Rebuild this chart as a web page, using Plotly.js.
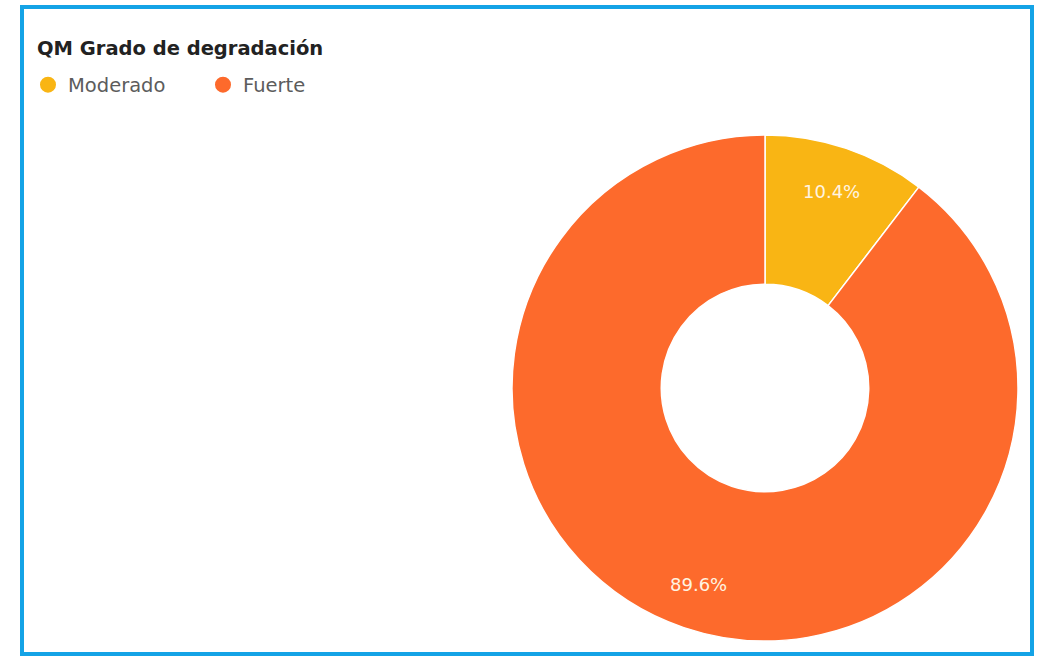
<!DOCTYPE html>
<html>
<head>
<meta charset="utf-8">
<script src="https://cdn.plot.ly/plotly-3.0.1.min.js"></script>
<style>
html,body{margin:0;padding:0;background:#fff;}
#chart{width:1038px;height:658px;}
</style>
</head>
<body>
<div id="chart"></div>
<script>
const categories = ["Moderado", "Fuerte"];
const values = [10.4, 89.6];
const colors = ["#F9B514", "#FD6A2C"];
const chartTitle = "QM Grado de degradación";

const W = 1038, H = 658;
const cx = 765, cy = 388, R = 253;
const FONT = "DejaVu Sans, Verdana, sans-serif";

const traces = [{
  type: "pie",
  labels: categories,
  values: values,
  sort: false,
  direction: "clockwise",
  rotation: 0,
  hole: 0.41,
  marker: {colors: colors, line: {color: "#FFFFFF", width: 1.5}},
  textinfo: "none",
  showlegend: false,
  hoverinfo: "label+percent",
  domain: {x: [(cx - R) / W, (cx + R) / W], y: [(H - cy - R) / H, (H - cy + R) / H]}
}];

categories.forEach((c, i) => {
  traces.push({
    type: "scatter", mode: "markers", x: [null], y: [null], name: c,
    marker: {symbol: "circle", size: 14, color: colors[i], line: {color: colors[i], width: 2}},
    showlegend: true, hoverinfo: "skip"
  });
});

// percentage labels placed at each slice's mid-angle, derived from the values
const total = values.reduce((a, b) => a + b, 0);
const annotations = [];
let acc = 0;
values.forEach((v, i) => {
  const mid = (acc + v / 2) / total * 2 * Math.PI;
  acc += v;
  const r = 0.822 * R;
  const px = cx + r * Math.sin(mid);
  const py = cy - r * Math.cos(mid);
  annotations.push({
    xref: "paper", yref: "paper",
    x: px / W, y: 1 - py / H,
    text: (v / total * 100).toFixed(1) + "%",
    showarrow: false,
    xanchor: "center", yanchor: "middle",
    font: {family: FONT, size: 18, color: "#FFF4E2"}
  });
});

const layout = {
  width: W, height: H,
  margin: {l: 0, r: 0, t: 0, b: 0},
  paper_bgcolor: "#FFFFFF",
  plot_bgcolor: "rgba(0,0,0,0)",
  font: {family: FONT, color: "#555"},
  title: {
    text: "<b>" + chartTitle + "</b>",
    x: 37 / W, xanchor: "left",
    y: 1 - 48 / H, yanchor: "middle",
    font: {size: 19.5, color: "#222", family: FONT}
  },
  xaxis: {visible: false, domain: [0, 0.01]},
  yaxis: {visible: false, domain: [0, 0.01]},
  legend: {
    orientation: "h",
    x: 28 / W, xanchor: "left",
    y: 1 - 85 / H, yanchor: "middle",
    font: {size: 19.5, color: "#5c5c5c", family: FONT},
    itemsizing: "trace",
    entrywidth: 130,
    entrywidthmode: "pixels",
    bgcolor: "rgba(0,0,0,0)"
  },
  annotations: annotations,
  shapes: [{
    type: "rect", xref: "paper", yref: "paper",
    x0: 22 / W, x1: 1032 / W, y0: 1 - 654 / H, y1: 1 - 7 / H,
    line: {color: "#14A3E6", width: 4}, fillcolor: "rgba(0,0,0,0)"
  }]
};

Plotly.newPlot("chart", traces, layout, {displayModeBar: false, staticPlot: true});
</script>
</body>
</html>
